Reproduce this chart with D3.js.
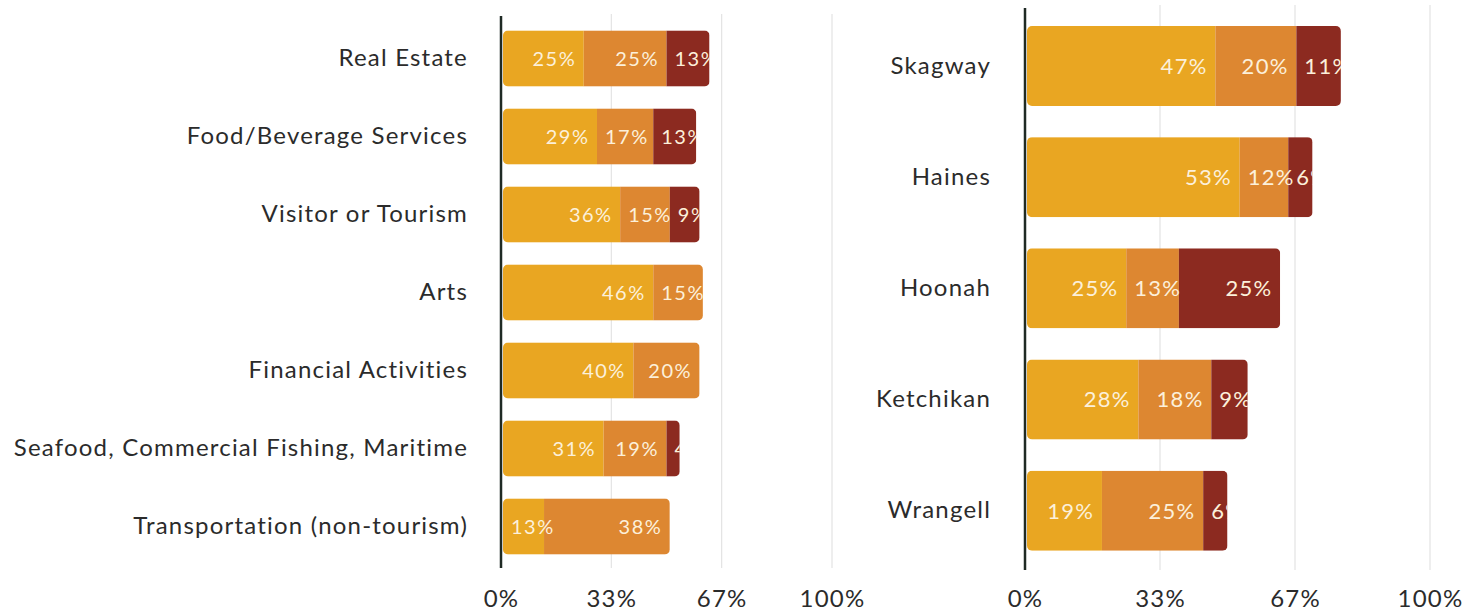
<!DOCTYPE html>
<html>
<head>
<meta charset="utf-8">
<script src="https://cdn.jsdelivr.net/npm/d3@7"></script>
<style>
  html, body { margin: 0; padding: 0; background: #ffffff; }
  svg { display: block; font-family: Lato, "Open Sans", sans-serif; }
</style>
</head>
<body>
<svg id="chart" width="1476" height="613"></svg>
<script>
// ---- data ----
const industryCategories = ["Real Estate", "Food/Beverage Services", "Visitor or Tourism", "Arts",
  "Financial Activities", "Seafood, Commercial Fishing, Maritime", "Transportation (non-tourism)"];
const industrySeries1 = [25, 29, 36, 46, 40, 31, 13];
const industrySeries2 = [25, 17, 15, 15, 20, 19, 38];
const industrySeries3 = [13, 13, 9, 0, 0, 4, 0];

const communityCategories = ["Skagway", "Haines", "Hoonah", "Ketchikan", "Wrangell"];
const communitySeries1 = [47, 53, 25, 28, 19];
const communitySeries2 = [20, 12, 13, 18, 25];
const communitySeries3 = [11, 6, 25, 9, 6];

const tickValues = [0, 100 / 3, 200 / 3, 100];
const tickLabels = ["0%", "33%", "67%", "100%"];
const seriesColors = ["#E9A622", "#DD8731", "#8C2A20"];

// ---- drawing ----
const svg = d3.select("#chart");
const defs = svg.append("defs");

function drawPanel(opts) {
  const { id, cats, series, xRange, yRange, axisTop, axisBottom, gridTop, gridBottom,
          catFont, valFont, valSpacing, labelGap, pad, tickY } = opts;
  const x = d3.scaleLinear().domain([0, 100]).range(xRange);
  const y = d3.scaleBand().domain(cats).range(yRange).paddingInner(0.28).paddingOuter(0.14);
  const g = svg.append("g");

  // gridlines
  g.selectAll("line.grid").data(tickValues.slice(1)).join("line")
    .attr("class", "grid")
    .attr("x1", d => x(d)).attr("x2", d => x(d))
    .attr("y1", gridTop).attr("y2", gridBottom)
    .attr("stroke", "#e3e3e3").attr("stroke-width", 1.2);

  // bars
  const rows = cats.map((c, i) => {
    const vals = series.map(s => s[i]);
    let acc = 0;
    const segs = vals.map((v, k) => { const s = { k, v, x0: acc, x1: acc + v }; acc += v; return s; })
      .filter(s => s.v > 0);
    return { c, i, total: acc, segs };
  });

  const barStart = x(0) + 2;
  rows.forEach(r => {
    const clipId = id + "-clip-" + r.i;
    defs.append("clipPath").attr("id", clipId).append("rect")
      .attr("x", barStart).attr("y", y(r.c))
      .attr("width", x(r.total) - barStart).attr("height", y.bandwidth())
      .attr("rx", 5).attr("ry", 5);
    const bg = g.append("g").attr("clip-path", `url(#${clipId})`);
    bg.selectAll("rect").data(r.segs).join("rect")
      .attr("x", d => Math.max(barStart, x(d.x0)))
      .attr("y", y(r.c))
      .attr("width", d => x(d.x1) - Math.max(barStart, x(d.x0)))
      .attr("height", y.bandwidth())
      .attr("fill", d => seriesColors[d.k]);
    bg.selectAll("text").data(r.segs).join("text")
      .attr("y", y(r.c) + y.bandwidth() / 2)
      .attr("dy", "0.36em")
      .attr("fill", "#FCF0DA")
      .style("font-size", valFont + "px")
      .style("letter-spacing", valSpacing + "px")
      .text(d => d.v + "%")
      .each(function (d) {
        const w = this.getComputedTextLength();
        const s0 = Math.max(barStart, x(d.x0)), s1 = x(d.x1);
        if (w + 2 * pad <= s1 - s0) {
          d3.select(this).attr("x", s1 - pad + valSpacing).attr("text-anchor", "end");
        } else {
          d3.select(this).attr("x", s0 + pad - 1).attr("text-anchor", "start");
        }
      });
  });

  // zero axis line
  g.append("line")
    .attr("x1", x(0)).attr("x2", x(0))
    .attr("y1", axisTop).attr("y2", axisBottom)
    .attr("stroke", "#1f2a24").attr("stroke-width", 2.5);

  // category axis
  const ya = g.append("g").attr("transform", `translate(${x(0)},0)`)
    .call(d3.axisLeft(y).tickSize(0).tickPadding(labelGap));
  ya.select(".domain").remove();
  ya.selectAll("text").style("font-size", catFont + "px").attr("fill", "#2b2b2b")
    .style("letter-spacing", "1.2px")
    .style("font-family", "Lato, sans-serif");

  // x axis tick labels
  const xa = g.append("g").attr("transform", `translate(0,${tickY})`)
    .call(d3.axisBottom(x).tickValues(tickValues).tickSize(0)
      .tickFormat((d, i) => tickLabels[i]));
  xa.select(".domain").remove();
  xa.selectAll("text").attr("y", 0).attr("dy", 0)
    .style("font-size", "24px").attr("fill", "#2b2b2b")
    .style("letter-spacing", "1.2px")
    .style("font-family", "Lato, sans-serif");
}

drawPanel({
  id: "left",
  cats: industryCategories,
  series: [industrySeries1, industrySeries2, industrySeries3],
  xRange: [501, 832], yRange: [19.5, 565.5],
  axisTop: 16, axisBottom: 568, gridTop: 14, gridBottom: 568,
  catFont: 24, valFont: 20, valSpacing: 1.5, labelGap: 33, pad: 9, tickY: 607
});

drawPanel({
  id: "right",
  cats: communityCategories,
  series: [communitySeries1, communitySeries2, communitySeries3],
  xRange: [1025, 1430], yRange: [10.4, 566.3],
  axisTop: 8, axisBottom: 570, gridTop: 5, gridBottom: 570,
  catFont: 24, valFont: 22, valSpacing: 1.3, labelGap: 34, pad: 9, tickY: 607
});
</script>
</body>
</html>
